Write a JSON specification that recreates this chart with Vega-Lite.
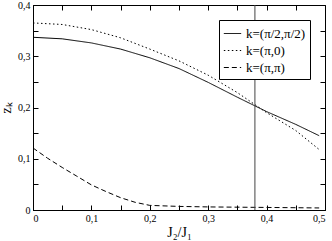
{
  "$schema": "https://vega.github.io/schema/vega-lite/v6.json",
  "width": 292,
  "height": 205,
  "autosize": {"type": "none"},
  "padding": {"left": 33, "top": 5, "right": 7, "bottom": 31},
  "config": {
    "font": "Liberation Serif",
    "view": {"stroke": "black", "strokeWidth": 1},
    "axis": {"domainColor": "black", "tickColor": "black", "labelColor": "black", "titleColor": "black", "grid": false, "labelFont": "Liberation Serif", "titleFont": "Liberation Serif", "titleFontWeight": "normal"},
    "legend": {"labelFont": "Liberation Serif"}
  },
  "data": {"values": [
    {"x": 0, "z": 0.337, "k": "k=(π/2,π/2)"},
    {"x": 0.05, "z": 0.334, "k": "k=(π/2,π/2)"},
    {"x": 0.1, "z": 0.326, "k": "k=(π/2,π/2)"},
    {"x": 0.15, "z": 0.314, "k": "k=(π/2,π/2)"},
    {"x": 0.2, "z": 0.297, "k": "k=(π/2,π/2)"},
    {"x": 0.25, "z": 0.276, "k": "k=(π/2,π/2)"},
    {"x": 0.3, "z": 0.249, "k": "k=(π/2,π/2)"},
    {"x": 0.35, "z": 0.220, "k": "k=(π/2,π/2)"},
    {"x": 0.4, "z": 0.192, "k": "k=(π/2,π/2)"},
    {"x": 0.45, "z": 0.167, "k": "k=(π/2,π/2)"},
    {"x": 0.49, "z": 0.145, "k": "k=(π/2,π/2)"},
    {"x": 0, "z": 0.365, "k": "k=(π,0)"},
    {"x": 0.05, "z": 0.362, "k": "k=(π,0)"},
    {"x": 0.1, "z": 0.352, "k": "k=(π,0)"},
    {"x": 0.15, "z": 0.336, "k": "k=(π,0)"},
    {"x": 0.2, "z": 0.314, "k": "k=(π,0)"},
    {"x": 0.25, "z": 0.291, "k": "k=(π,0)"},
    {"x": 0.3, "z": 0.263, "k": "k=(π,0)"},
    {"x": 0.35, "z": 0.229, "k": "k=(π,0)"},
    {"x": 0.4, "z": 0.19, "k": "k=(π,0)"},
    {"x": 0.45, "z": 0.155, "k": "k=(π,0)"},
    {"x": 0.49, "z": 0.118, "k": "k=(π,0)"},
    {"x": 0, "z": 0.121, "k": "k=(π,π)"},
    {"x": 0.025, "z": 0.101, "k": "k=(π,π)"},
    {"x": 0.05, "z": 0.083, "k": "k=(π,π)"},
    {"x": 0.075, "z": 0.066, "k": "k=(π,π)"},
    {"x": 0.1, "z": 0.049, "k": "k=(π,π)"},
    {"x": 0.125, "z": 0.036, "k": "k=(π,π)"},
    {"x": 0.15, "z": 0.024, "k": "k=(π,π)"},
    {"x": 0.175, "z": 0.015, "k": "k=(π,π)"},
    {"x": 0.2, "z": 0.009, "k": "k=(π,π)"},
    {"x": 0.25, "z": 0.007, "k": "k=(π,π)"},
    {"x": 0.3, "z": 0.006, "k": "k=(π,π)"},
    {"x": 0.4, "z": 0.005, "k": "k=(π,π)"},
    {"x": 0.49, "z": 0.004, "k": "k=(π,π)"}
  ]},
  "layer": [
    {
      "mark": {"type": "line", "color": "black", "strokeWidth": 1, "clip": true},
      "encoding": {
        "x": {"field": "x", "type": "quantitative", "scale": {"domain": [0, 0.5], "nice": false},
          "title": "J₂/J₁",
          "axis": {"values": [0, 0.05, 0.1, 0.15, 0.2, 0.25, 0.3, 0.35, 0.4, 0.45, 0.5], "tickSize": -5, "labelPadding": 8, "labelFontSize": 10, "labelFont": "Liberation Serif", "titleFont": "Liberation Serif", "titleFontSize": 14, "titlePadding": 2,
            "labelExpr": "round(datum.value*20)%2==1 ? '' : (datum.value==0 ? '0' : replace(format(datum.value,'.1f'),'.',','))"}},
        "y": {"field": "z", "type": "quantitative", "scale": {"domain": [0, 0.4], "nice": false},
          "title": "zₖ",
          "axis": {"values": [0, 0.05, 0.1, 0.15, 0.2, 0.25, 0.3, 0.35, 0.4], "tickSize": -5, "labelPadding": 8, "labelFontSize": 10, "labelFont": "Liberation Serif", "titleFont": "Liberation Serif", "titleFontSize": 14, "titlePadding": 4,
            "labelExpr": "round(datum.value*20)%2==1 ? '' : (datum.value==0 ? '0' : replace(format(datum.value,'.1f'),'.',','))"}},
        "strokeDash": {"field": "k", "type": "nominal",
          "scale": {"domain": ["k=(π/2,π/2)", "k=(π,0)", "k=(π,π)"], "range": [[1, 0], [1.5, 2.5], [5, 3]]},
          "legend": {"title": null, "orient": "none", "legendX": 186, "legendY": 15, "strokeColor": "black", "fillColor": "white", "padding": 4, "labelFontSize": 13, "labelFont": "Liberation Serif", "symbolType": "stroke", "symbolStrokeColor": "black", "symbolStrokeWidth": 1, "symbolSize": 300, "rowPadding": 0, "labelOffset": 4}}
      }
    },
    {
      "data": {"values": [{"xv": 0.38}]},
      "mark": {"type": "rule", "color": "#444", "strokeWidth": 1},
      "encoding": {
        "x": {"field": "xv", "type": "quantitative",
          "axis": {"orient": "top", "values": [0, 0.05, 0.1, 0.15, 0.2, 0.25, 0.3, 0.35, 0.4, 0.45, 0.5], "labels": false, "title": null, "tickSize": -5, "domain": false}}
      }
    },
    {
      "data": {"values": [{"yv": 0}]},
      "mark": {"type": "rule", "opacity": 0},
      "encoding": {
        "y": {"field": "yv", "type": "quantitative",
          "axis": {"orient": "right", "values": [0, 0.05, 0.1, 0.15, 0.2, 0.25, 0.3, 0.35, 0.4], "labels": false, "title": null, "tickSize": -5, "domain": false}}
      }
    }
  ],
  "resolve": {"axis": {"x": "independent", "y": "independent"}}
}
